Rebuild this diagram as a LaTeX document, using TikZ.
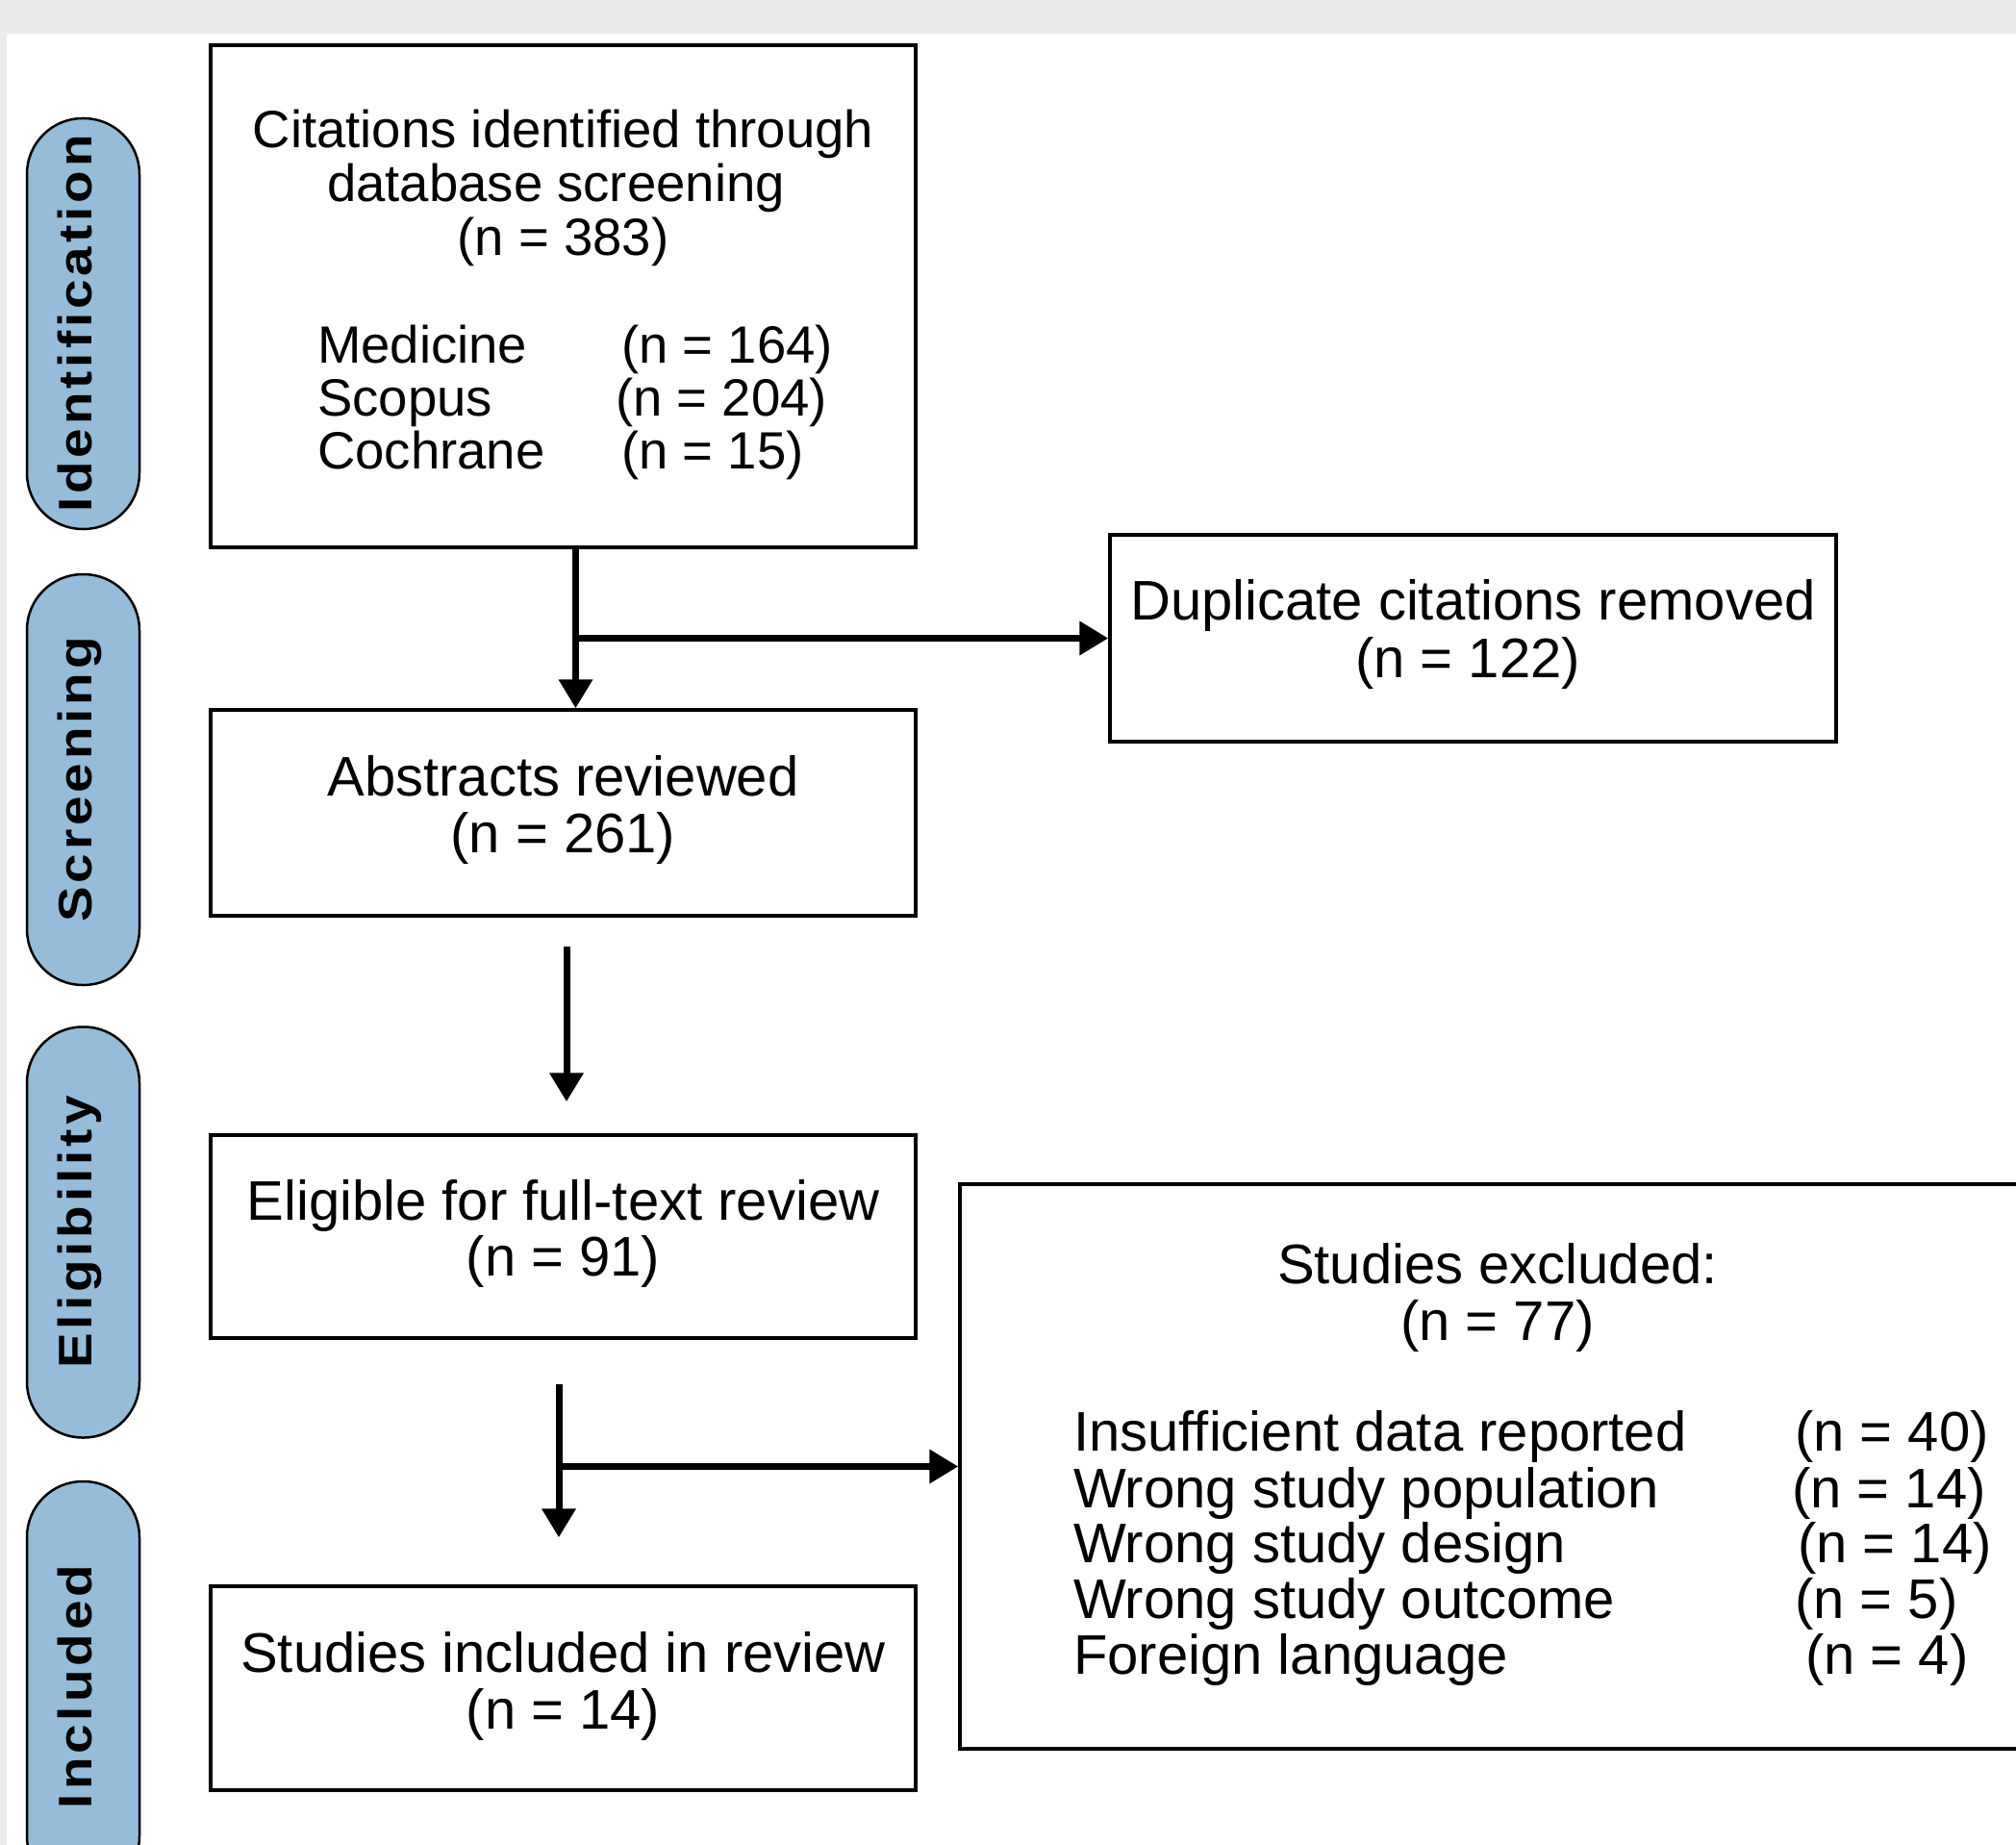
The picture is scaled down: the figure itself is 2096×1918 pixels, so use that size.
\documentclass[tikz,border=0pt]{standalone}
\usepackage{fontspec}
\setmainfont{Liberation Sans}
\newfontfamily\sidefont{Liberation Sans}[FakeStretch=1.12,LetterSpace=8]
\usetikzlibrary{arrows.meta}
\definecolor{pillblue}{RGB}{149,188,217}
\definecolor{bggray}{RGB}{235,235,235}
\begin{document}
\begin{tikzpicture}[x=1pt,y=-1pt,
  box/.style={draw=black,line width=3.5pt,fill=white,inner sep=0pt},
  pill/.style={draw=black,line width=2.5pt,fill=pillblue,rounded corners=58pt,inner sep=0pt,minimum width=117pt,minimum height=427pt},
  lbl/.style={font=\sidefont\bfseries\fontsize{49}{49}\selectfont,rotate=90,anchor=base,inner sep=0pt},
  txt/.style={font=\fontsize{58}{58}\selectfont,anchor=base,inner sep=0pt},
  txtl/.style={txt,anchor=base west},
  stxt/.style={font=\fontsize{54.5}{54.5}\selectfont,anchor=base,inner sep=0pt},
  stxtl/.style={stxt,anchor=base west},
  conn/.style={line width=7pt},
  arr/.style={conn,-{Triangle[width=34pt,length=30pt]}}]
\useasboundingbox (0,0) rectangle (2096,1918);
\begin{scope}
\clip (0,0) rectangle (2096,1918);
\fill[bggray] (0,0) rectangle (2096,1918);
\fill[white] (7,35) rectangle (2096,1918);

% side labels
\node[pill] (pid) at (86.5,336.5) {};
\node[lbl] (lid) at (95,336.5) {Identification};
\node[pill] (psc) at (86.5,810.5) {};
\node[lbl] (lsc) at (95,810.5) {Screening};
\node[pill] (pel) at (86.5,1281) {};
\node[lbl] (lel) at (95,1281) {Eligibility};
\node[pill] (pin) at (86.5,1753.5) {};
\node[lbl] (lin) at (95,1753.5) {Included};

% boxes
\node[box,minimum width=733pt,minimum height=522pt] (b1) at (585.5,308) {};
\node[box,minimum width=755pt,minimum height=215pt] (dup) at (1531.5,663.5) {};
\node[box,minimum width=733pt,minimum height=214pt] (abs) at (585.5,845) {};
\node[box,minimum width=733pt,minimum height=211pt] (elig) at (585.5,1285.5) {};
\node[box,minimum width=733pt,minimum height=212pt] (incl) at (585.5,1755) {};
\node[box,minimum width=1118pt,minimum height=587pt] (excl) at (1557,1524.5) {};

% box 1 text
\node[stxt] (t1a) at (585.5,154) {Citations identified through};
\node[stxt] (t1b) at (578,210) {database screening};
\node[stxt] (t1c) at (585.5,266) {(n = 383)};
\node[stxtl] (s1) at (330,377) {Medicine};
\node[stxtl] (s2) at (330,432) {Scopus};
\node[stxtl] (s3) at (330,487) {Cochrane};
\node[stxtl] (n1) at (646,377) {(n = 164)};
\node[stxtl] (n2) at (640,432) {(n = 204)};
\node[stxtl] (n3) at (646,487) {(n = 15)};

% duplicate
\node[txt] (d1) at (1531.5,644) {Duplicate citations removed};
\node[txt] (d2) at (1526,704) {(n = 122)};

% abstracts
\node[txt] (a1) at (585.5,827) {Abstracts reviewed};
\node[txt] (a2) at (585.5,886) {(n = 261)};

% eligible
\node[txt] (e1) at (585.5,1268) {Eligible for full-text review};
\node[txt] (e2) at (585.5,1326) {(n = 91)};

% included
\node[txt] (i1) at (585.5,1738) {Studies included in review};
\node[txt] (i2) at (585.5,1797) {(n = 14)};

% excluded
\node[txt] (x1) at (1557,1334) {Studies excluded:};
\node[txt] (x2) at (1557,1393) {(n = 77)};
\node[txtl] (r1) at (1116,1508) {Insufficient data reported};
\node[txtl] (r2) at (1116,1567) {Wrong study population};
\node[txtl] (r3) at (1116,1624) {Wrong study design};
\node[txtl] (r4) at (1116,1682) {Wrong study outcome};
\node[txtl] (r5) at (1116,1740) {Foreign language};
\node[txtl] (c1) at (1866,1508) {(n = 40)};
\node[txtl] (c2) at (1863,1567) {(n = 14)};
\node[txtl] (c3) at (1869,1624) {(n = 14)};
\node[txtl] (c4) at (1866,1682) {(n = 5)};
\node[txtl] (c5) at (1877,1740) {(n = 4)};

% connectors
\draw[arr] ([xshift=13pt]b1.south) -- ([xshift=13pt]abs.north);
\draw[arr] ([xshift=13pt]b1.south) |- (dup.west);
\draw[arr] ([xshift=3.5pt,yshift=-30pt]abs.south) -- ([xshift=3.5pt,yshift=33pt]elig.north);
\coordinate (a3s) at ([xshift=-4.5pt,yshift=-46pt]elig.south);
\draw[arr] (a3s) -- ([xshift=-4.5pt,yshift=49pt]incl.north);
\draw[arr] (a3s) |- (excl.west);
\end{scope}
\end{tikzpicture}
\end{document}
